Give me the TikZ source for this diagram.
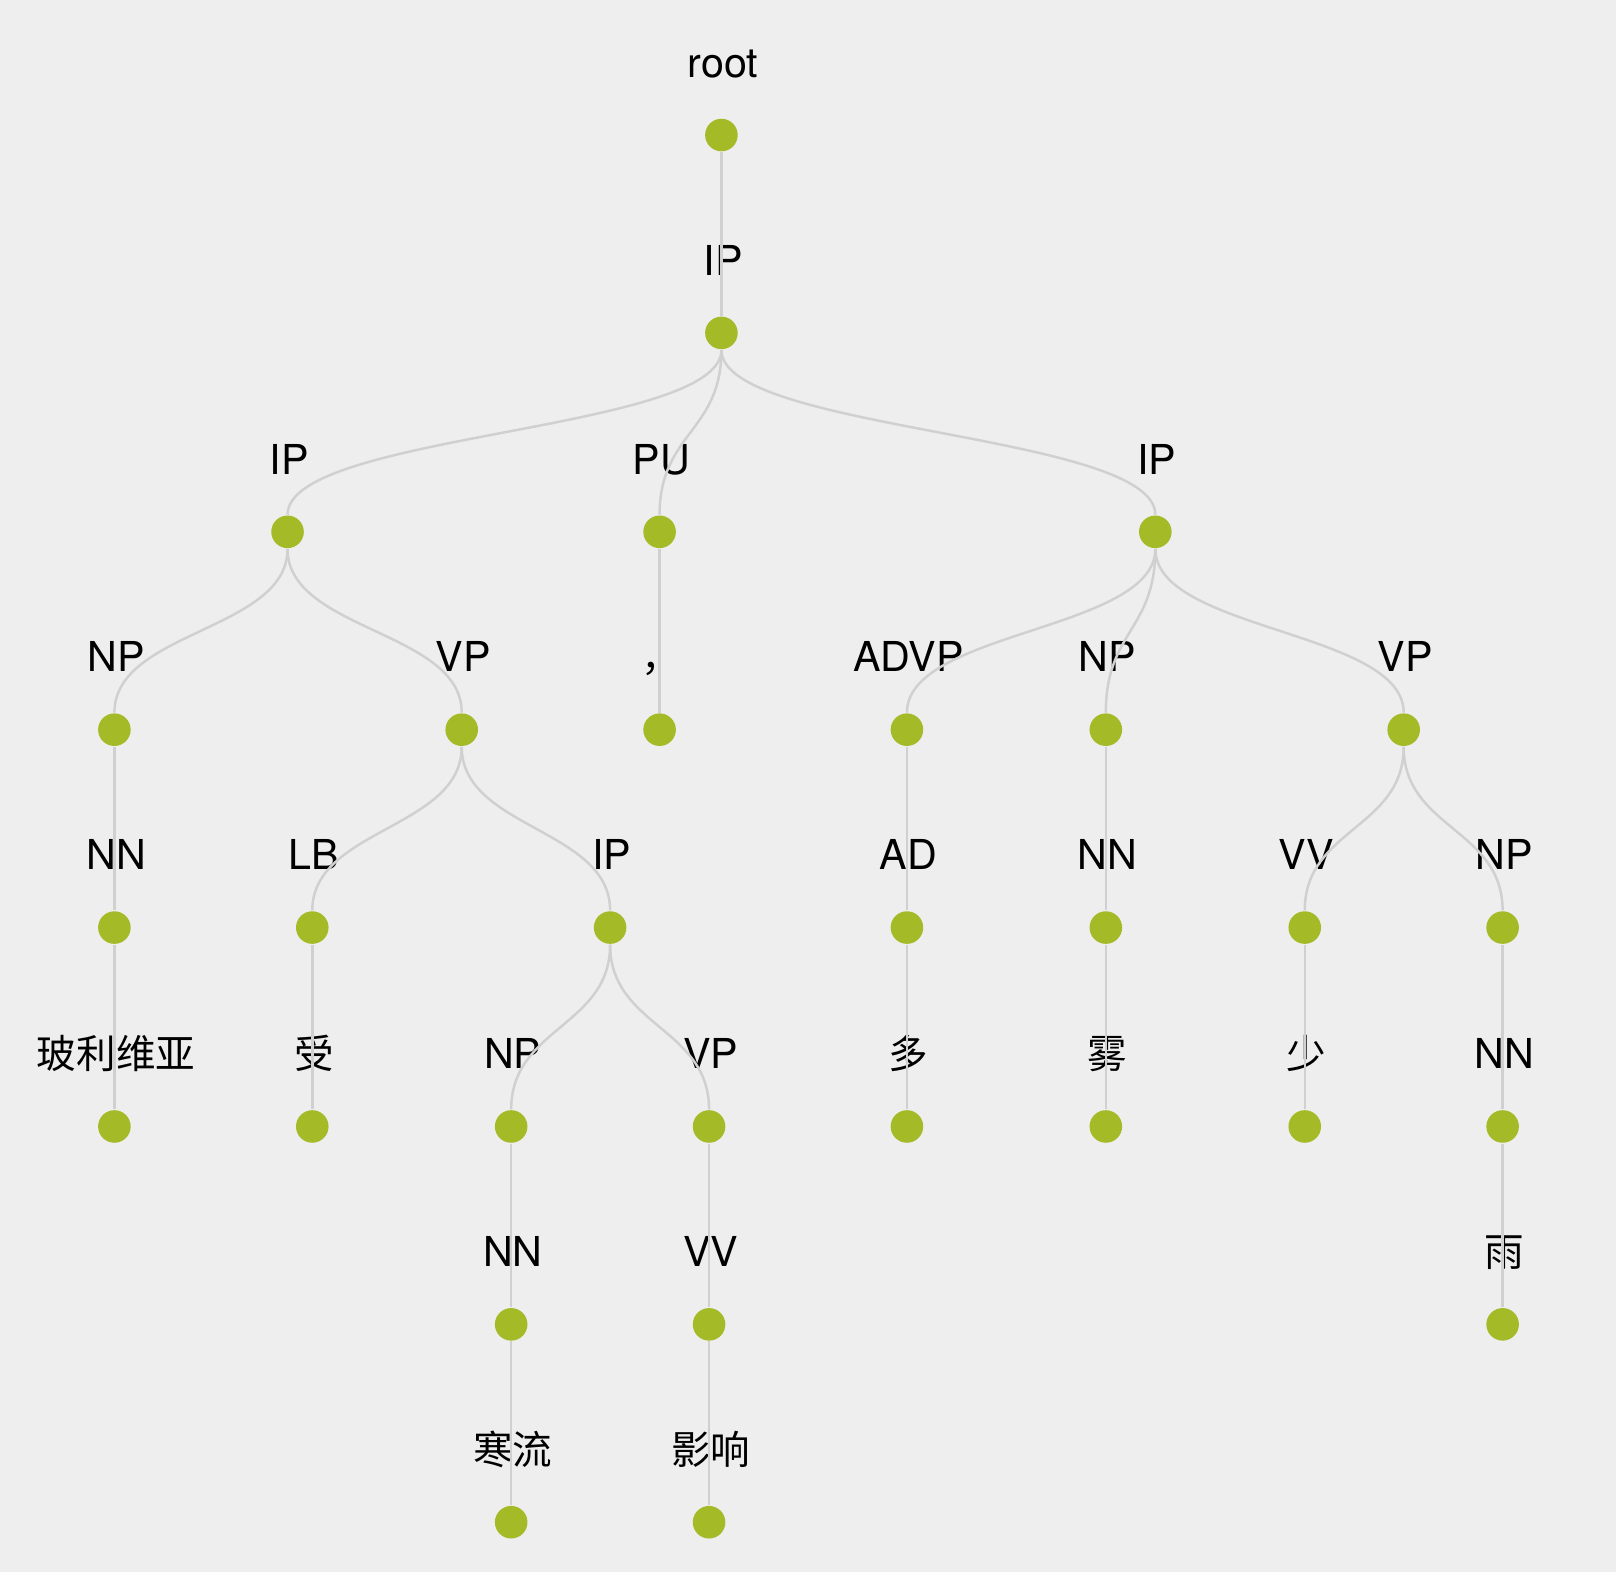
\documentclass[tikz,border=0pt]{standalone}
\usepackage{fontspec}
\setmainfont{TeX Gyre Heros}
\newfontfamily\cjkfont{Noto Sans CJK SC}
\newcommand{\cjk}{\cjkfont\fontsize{9.6}{12}\selectfont}
\definecolor{bgpage}{RGB}{238,238,238}
\definecolor{leafgreen}{RGB}{164,186,38}
\definecolor{linkgray}{RGB}{208,208,208}
\tikzset{
	dot/.style={circle,fill=leafgreen,inner sep=0pt,minimum size=7.9pt},
	tag/.style={anchor=base,yshift=14pt,xshift=0.4pt,inner sep=0pt,font=\fontsize{10}{12}\selectfont},
	link/.style={draw=linkgray,line width=0.6pt}
}
\newcommand{\branch}[2]{\draw[link] (#1) .. controls +(0,96) and +(0,-96) .. (#2);}
\begin{document}
\begin{tikzpicture}[x=0.25pt,y=-0.25pt]
	\fill[bgpage] (0,0) rectangle (1568,1525);
	\useasboundingbox (0,0) rectangle (1568,1525);
	% level 0, 1
	\node[dot] (root) at (700,131) {};
	\node[tag] (rootT) at (root) {root};
	\node[dot] (ip) at (700,323) {};
	\node[tag] (ipT) at (ip) {IP};
	% level 2
	\node[dot] (ipL) at (279,516) {};
	\node[tag] (ipLT) at (ipL) {IP};
	\node[dot] (pu) at (640,516) {};
	\node[tag] (puT) at (pu) {PU};
	\node[dot] (ipR) at (1121,516) {};
	\node[tag] (ipRT) at (ipR) {IP};
	% level 3
	\node[dot] (npA) at (111,708) {};
	\node[tag] (npAT) at (npA) {NP};
	\node[dot] (vpA) at (448,708) {};
	\node[tag] (vpAT) at (vpA) {VP};
	\node[dot] (pun) at (640,708) {};
	\node[tag] (punT) at (pun) {\cjk ，};
	\node[dot] (advp) at (880,708) {};
	\node[tag] (advpT) at (advp) {ADVP};
	\node[dot] (npB) at (1073,708) {};
	\node[tag] (npBT) at (npB) {NP};
	\node[dot] (vpB) at (1362,708) {};
	\node[tag] (vpBT) at (vpB) {VP};
	% level 4
	\node[dot] (nnA) at (111,900) {};
	\node[tag] (nnAT) at (nnA) {NN};
	\node[dot] (lb) at (303,900) {};
	\node[tag] (lbT) at (lb) {LB};
	\node[dot] (ipC) at (592,900) {};
	\node[tag] (ipCT) at (ipC) {IP};
	\node[dot] (ad) at (880,900) {};
	\node[tag] (adT) at (ad) {AD};
	\node[dot] (nnB) at (1073,900) {};
	\node[tag] (nnBT) at (nnB) {NN};
	\node[dot] (vvA) at (1266,900) {};
	\node[tag] (vvAT) at (vvA) {VV};
	\node[dot] (npC) at (1458,900) {};
	\node[tag] (npCT) at (npC) {NP};
	% level 5
	\node[dot] (wBol) at (111,1093) {};
	\node[tag] (wBolT) at (wBol) {\cjk 玻利维亚};
	\node[dot] (wShou) at (303,1093) {};
	\node[tag] (wShouT) at (wShou) {\cjk 受};
	\node[dot] (npD) at (496,1093) {};
	\node[tag] (npDT) at (npD) {NP};
	\node[dot] (vpC) at (688,1093) {};
	\node[tag] (vpCT) at (vpC) {VP};
	\node[dot] (wDuo) at (880,1093) {};
	\node[tag] (wDuoT) at (wDuo) {\cjk 多};
	\node[dot] (wWu) at (1073,1093) {};
	\node[tag] (wWuT) at (wWu) {\cjk 雾};
	\node[dot] (wShao) at (1266,1093) {};
	\node[tag] (wShaoT) at (wShao) {\cjk 少};
	\node[dot] (nnC) at (1458,1093) {};
	\node[tag] (nnCT) at (nnC) {NN};
	% level 6
	\node[dot] (nnD) at (496,1285) {};
	\node[tag] (nnDT) at (nnD) {NN};
	\node[dot] (vvB) at (688,1285) {};
	\node[tag] (vvBT) at (vvB) {VV};
	\node[dot] (wYu) at (1458,1285) {};
	\node[tag] (wYuT) at (wYu) {\cjk 雨};
	% level 7
	\node[dot] (wHan) at (496,1477) {};
	\node[tag] (wHanT) at (wHan) {\cjk 寒流};
	\node[dot] (wYing) at (688,1477) {};
	\node[tag] (wYingT) at (wYing) {\cjk 影响};
	% links
	\branch{root}{ip}
	\branch{ip}{ipL} \branch{ip}{pu} \branch{ip}{ipR}
	\branch{ipL}{npA} \branch{ipL}{vpA}
	\branch{pu}{pun}
	\branch{ipR}{advp} \branch{ipR}{npB} \branch{ipR}{vpB}
	\branch{npA}{nnA}
	\branch{vpA}{lb} \branch{vpA}{ipC}
	\branch{advp}{ad}
	\branch{npB}{nnB}
	\branch{vpB}{vvA} \branch{vpB}{npC}
	\branch{nnA}{wBol}
	\branch{lb}{wShou}
	\branch{ipC}{npD} \branch{ipC}{vpC}
	\branch{ad}{wDuo}
	\branch{nnB}{wWu}
	\branch{vvA}{wShao}
	\branch{npC}{nnC}
	\branch{npD}{nnD}
	\branch{vpC}{vvB}
	\branch{nnC}{wYu}
	\branch{nnD}{wHan}
	\branch{vvB}{wYing}
\end{tikzpicture}
\end{document}
